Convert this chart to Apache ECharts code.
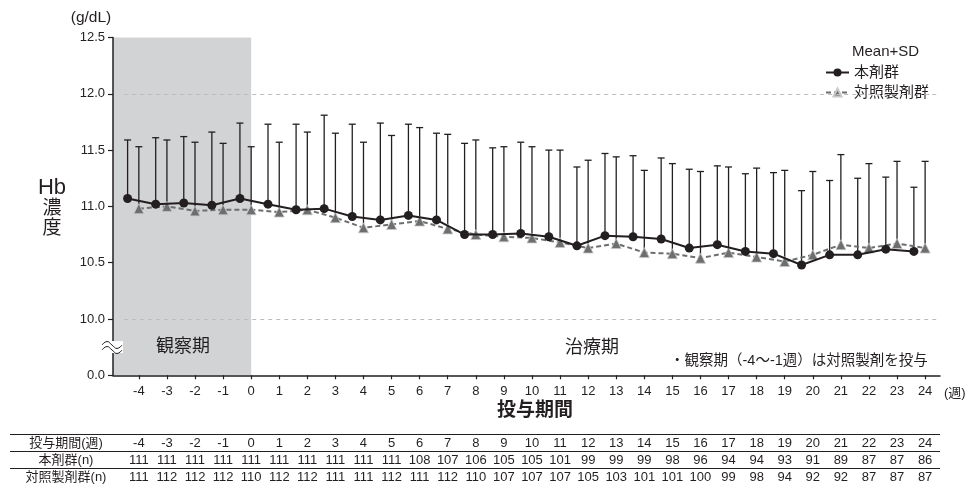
<!DOCTYPE html>
<html>
<head>
<meta charset="utf-8">
<script src="https://cdn.jsdelivr.net/npm/echarts@6/dist/echarts.min.js"></script>
<style>
html, body { margin: 0; padding: 0; background: #fff; }
#main { width: 972px; height: 484px; }
</style>
</head>
<body>
<div id="main"></div>
<script>
// weeks of treatment (negative = observation period)
const weeks = [-4, -3, -2, -1, 0, 1, 2, 3, 4, 5, 6, 7, 8, 9, 10, 11, 12, 13, 14, 15, 16, 17, 18, 19, 20, 21, 22, 23, 24];

// 本剤群 mean and SD (g/dL)
const mainMean = [11.07, 11.02, 11.03, 11.01, 11.07, 11.02, 10.97, 10.98, 10.91, 10.88, 10.92, 10.88, 10.75, 10.75, 10.76, 10.73, 10.65, 10.74, 10.73, 10.71, 10.63, 10.66, 10.60, 10.58, 10.48, 10.57, 10.57, 10.62, 10.60];
const mainSD = [0.52, 0.59, 0.59, 0.65, 0.67, 0.71, 0.76, 0.83, 0.82, 0.86, 0.81, 0.77, 0.81, 0.77, 0.81, 0.77, 0.70, 0.73, 0.72, 0.72, 0.70, 0.70, 0.69, 0.72, 0.66, 0.66, 0.68, 0.64, 0.57];

// 対照製剤群 mean and SD (g/dL)
const ctrlMean = [10.98, 11.00, 10.96, 10.97, 10.97, 10.95, 10.97, 10.90, 10.81, 10.84, 10.87, 10.80, 10.75, 10.73, 10.72, 10.68, 10.63, 10.67, 10.59, 10.58, 10.54, 10.59, 10.55, 10.51, 10.57, 10.66, 10.63, 10.67, 10.63];
const ctrlSD = [0.55, 0.59, 0.61, 0.59, 0.56, 0.62, 0.69, 0.75, 0.76, 0.79, 0.83, 0.84, 0.84, 0.80, 0.81, 0.82, 0.78, 0.77, 0.73, 0.80, 0.77, 0.76, 0.79, 0.81, 0.74, 0.80, 0.75, 0.73, 0.77];

// number of patients
const mainN = [111, 111, 111, 111, 111, 111, 111, 111, 111, 111, 108, 107, 106, 105, 105, 101, 99, 99, 99, 98, 96, 94, 94, 93, 91, 89, 87, 87, 86];
const ctrlN = [111, 112, 112, 112, 110, 112, 112, 111, 111, 112, 111, 112, 110, 107, 107, 107, 105, 103, 101, 101, 100, 99, 98, 94, 92, 92, 87, 87, 87];

const rowLabels = ['投与期間(週)', '本剤群(n)', '対照製剤群(n)'];
const yTicks = [9.5, 10, 10.5, 11, 11.5, 12, 12.5]; // 9.5 is shown as 0.0 (broken axis)

const F = "'Liberation Sans', 'Noto Sans CJK JP', sans-serif";
const INK = '#231f20';
const mainOffset = -0.4;   // circles sit left of the tick
const xMin = -4.92, xMax = 24.53;
const rowY = [443, 460, 477];

const chart = echarts.init(document.getElementById('main'));

function errRender(params, api) {
  const x = api.value(0), m = api.value(1), sd = api.value(2);
  const p0 = api.coord([x, m]);
  const p1 = api.coord([x, m + sd]);
  const st = { stroke: INK, lineWidth: 1.3 };
  return {
    type: 'group',
    children: [
      { type: 'line', shape: { x1: p0[0], y1: p0[1], x2: p1[0], y2: p1[1] }, style: st },
      { type: 'line', shape: { x1: p1[0] - 3.5, y1: p1[1], x2: p1[0] + 3.5, y2: p1[1] }, style: st }
    ]
  };
}

function tableRender(params, api) {
  const x = api.coord([api.value(0), 11])[0];
  const vals = [api.value(0), api.value(1), api.value(2)];
  return {
    type: 'group',
    children: vals.map((v, i) => ({
      type: 'text',
      style: { x: x, y: rowY[i], text: String(v), align: 'center', verticalAlign: 'middle', fontSize: 13, fontFamily: F, fill: INK }
    }))
  };
}

function txt(x, y, text, size, extra) {
  return { type: 'text', z: 50, style: Object.assign({ x: x, y: y, text: text, fontSize: size, fontFamily: F, fill: INK, align: 'center', verticalAlign: 'middle' }, extra || {}) };
}

const graphics = [
  txt(91, 18, '(g/dL)', 15.5),
  txt(52, 188, 'Hb', 22),
  txt(52, 209, '濃', 19),
  txt(52, 229, '度', 19),
  txt(183, 347, '観察期', 18),
  txt(592, 348, '治療期', 18),
  txt(670, 361, '・観察期（-4～-1週）は対照製剤を投与', 14.5, { align: 'left' }),
  txt(944, 393, '(週)', 13, { align: 'left' }),
  txt(535, 411, '投与期間', 19, { fontWeight: 'bold' }),
  txt(852, 52, 'Mean+SD', 15, { align: 'left' }),
  // axis break
  { type: 'rect', z: 50, shape: { x: 103, y: 341, width: 20, height: 12 }, style: { fill: '#fff' } },
  { type: 'polyline', z: 51, shape: { points: [[102, 345], [107, 341.5], [112, 345], [117, 348.5], [122, 345]], smooth: 0.5 }, style: { fill: 'none', stroke: INK, lineWidth: 1 } },
  { type: 'polyline', z: 51, shape: { points: [[102, 350], [107, 346.5], [112, 350], [117, 353.5], [122, 350]], smooth: 0.5 }, style: { fill: 'none', stroke: INK, lineWidth: 1 } }
];
[434.5, 451.5, 468.5].forEach(y => {
  graphics.push({ type: 'line', z: 50, shape: { x1: 10, y1: y, x2: 940, y2: y }, style: { stroke: INK, lineWidth: 1 } });
});
rowLabels.forEach((t, i) => graphics.push(txt(66, rowY[i], t, 13)));

chart.setOption({
  animation: false,
  backgroundColor: '#fff',
  grid: { left: 113, right: 32, top: 37.5, bottom: 108.7 },
  xAxis: {
    type: 'value', min: xMin, max: xMax, z: 10,
    axisLine: { onZero: false, lineStyle: { color: INK, width: 1.5 } },
    axisTick: { show: true, length: 4, lineStyle: { color: INK, width: 1.2 }, customValues: weeks },
    axisLabel: { customValues: weeks, fontSize: 13, fontFamily: F, color: INK, margin: 10 },
    splitLine: { show: false }
  },
  yAxis: {
    type: 'value', min: 9.5, max: 12.5, interval: 0.5, z: 10,
    axisLine: { show: true, onZero: false, lineStyle: { color: INK, width: 1.5 } },
    axisTick: { show: true, length: 5, lineStyle: { color: INK, width: 1.2 } },
    axisLabel: {
      fontSize: 13, fontFamily: F, color: INK, margin: 8,
      formatter: v => (v === yTicks[0] ? '0.0' : v.toFixed(1))
    },
    splitLine: { show: false }
  },
  legend: {
    data: ['本剤群', '対照製剤群'],
    orient: 'vertical', left: 817, top: 63,
    itemWidth: 23, itemHeight: 10, itemGap: 5,
    padding: [2, 6, 2, 8],
    backgroundColor: '#fff',
    selectedMode: false,
    textStyle: { fontSize: 15, color: INK, fontFamily: F }
  },
  graphic: graphics,
  series: [
    {
      name: 'bg', type: 'line', z: 1,
      data: [],
      markArea: {
        silent: true,
        itemStyle: { color: '#d1d3d4', borderWidth: 0 },
        data: [[{ xAxis: xMin }, { xAxis: 0 }]]
      },
      markLine: {
        silent: true, symbol: 'none', label: { show: false },
        lineStyle: { color: '#bdbdbd', width: 1, type: [4, 4] },
        data: [
          [{ coord: [-4.52, 12] }, { coord: [xMax, 12] }],
          [{ coord: [-4.52, 10] }, { coord: [xMax, 10] }]
        ]
      }
    },
    {
      name: 'mainSD', type: 'custom', z: 3,
      renderItem: errRender,
      data: weeks.map((w, i) => [w + mainOffset, mainMean[i], mainSD[i]])
    },
    {
      name: 'ctrlSD', type: 'custom', z: 3,
      renderItem: errRender,
      data: weeks.map((w, i) => [w, ctrlMean[i], ctrlSD[i]])
    },
    {
      name: '対照製剤群', type: 'line', z: 4,
      data: weeks.map((w, i) => [w, ctrlMean[i]]),
      symbol: 'triangle', symbolSize: 10,
      itemStyle: { color: '#6d6e70', borderColor: '#c8c8c8', borderWidth: 0.8 },
      lineStyle: { color: '#6d6e70', width: 2, type: [5, 3] }
    },
    {
      name: '本剤群', type: 'line', z: 5,
      data: weeks.map((w, i) => [w + mainOffset, mainMean[i]]),
      symbol: 'circle', symbolSize: 9,
      itemStyle: { color: INK },
      lineStyle: { color: INK, width: 2 }
    },
    {
      name: 'table', type: 'custom', z: 6, clip: false,
      renderItem: tableRender,
      data: weeks.map((w, i) => [w, mainN[i], ctrlN[i]])
    }
  ]
});
</script>
</body>
</html>
